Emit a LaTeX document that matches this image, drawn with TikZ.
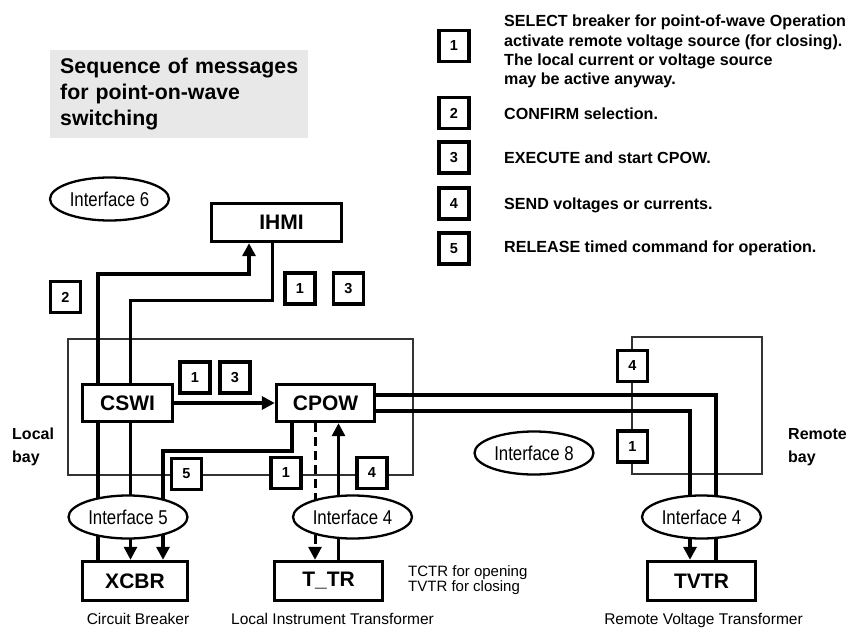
\documentclass[tikz,border=0pt]{standalone}
\usepackage{fontspec}
\setmainfont{Liberation Sans}
\newfontfamily\narrowfont[FakeStretch=0.84]{Liberation Sans}
\usetikzlibrary{arrows.meta,shapes.geometric}

\begin{document}
\begin{tikzpicture}[x=1pt,y=-1pt,
  blk/.style={draw, line width=3.4pt, fill=white, inner sep=0pt,
    font=\bfseries\fontsize{21}{24}\selectfont},
  num/.style={draw, line width=3.2pt, fill=white, minimum width=30pt,
    minimum height=31pt, inner sep=0pt, font=\bfseries\fontsize{14.5}{16}\selectfont},
  iface/.style={ellipse, draw, line width=2.3pt, fill=white, inner sep=0pt,
    minimum width=119pt, minimum height=43pt,
    font=\narrowfont\fontsize{20}{22}\selectfont},
  bay/.style={draw=black!80, line width=1.1pt},
  tip/.style={-{Triangle[length=13pt,width=13pt]}},
  heavy/.style={line width=4pt},
  medium/.style={line width=3pt},
  dashline/.style={line width=3pt, dash pattern=on 9pt off 5pt},
  lbl/.style={inner sep=0pt, font=\fontsize{15.5}{16}\selectfont},
  baylbl/.style={inner sep=0pt, anchor=west, align=left,
    font=\bfseries\fontsize{16}{23}\selectfont},
  legend/.style={inner sep=0pt, align=left,
    font=\bfseries\fontsize{16.1}{19.3}\selectfont},
]
\useasboundingbox (0,0) rectangle (848,628);

% title panel
\node[fill=black!9, anchor=north west, minimum width=258pt, minimum height=88pt,
  text width=238pt, inner xsep=10pt, inner ysep=0pt, align=left,
  font=\bfseries\fontsize{21.3}{26}\selectfont] (title) at (50,50)
  {Sequence of messages\\for point-on-wave\\switching};

% legend of message numbers
\node[num] (k1) at (454,46) {1};
\node[num] (k2) at (454,113) {2};
\node[num] (k3) at (454,157.5) {3};
\node[num] (k4) at (454,203.5) {4};
\node[num] (k5) at (454,248.5) {5};
\node[legend, anchor=west] (t1) at (504,51.5)
  {SELECT breaker for point-of-wave Operation\\activate remote voltage source (for closing).\\The local current or voltage source\\may be active anyway.};
\node[legend, anchor=base west] (t2) at (504,119.8) {CONFIRM selection.};
\node[legend, anchor=base west] (t3) at (504,163.8) {EXECUTE and start CPOW.};
\node[legend, anchor=base west] (t4) at (504,209.8) {SEND voltages or currents.};
\node[legend, anchor=base west] (t5) at (504,252.8) {RELEASE timed command for operation.};

% bays
\draw[bay] (68,339) rectangle (413,475);
\draw[bay] (632,337) rectangle (762,474);

% logical nodes
\node[blk, minimum width=130pt, minimum height=38pt] (ihmi) at (276.5,222.5) {\hspace*{10pt}IHMI};
\node[blk, minimum width=90pt, minimum height=37pt] (cswi) at (127.5,403) {CSWI};
\node[blk, minimum width=98pt, minimum height=37pt] (cpow) at (325.5,403) {CPOW};
\node[blk, minimum width=105pt, minimum height=39pt] (xcbr) at (135,581) {XCBR};
\node[blk, minimum width=108pt, minimum height=39pt] (ttr) at (328.5,581) {T\_TR};
\node[blk, minimum width=108pt, minimum height=39pt] (tvtr) at (701.5,581) {TVTR};

% routing columns and rows
\coordinate (cA) at (98,0);
\coordinate (cB) at (130.5,0);
\coordinate (cC) at (163,0);
\coordinate (cD) at (249,0);
\coordinate (cE) at (272,0);
\coordinate (cF) at (292,0);
\coordinate (cG) at (315,0);
\coordinate (cH) at (338.5,0);
\coordinate (cI) at (690,0);
\coordinate (cJ) at (715.5,0);
\coordinate (r1) at (0,273.5);
\coordinate (r2) at (0,300.5);
\coordinate (r3) at (0,451);
\coordinate (rU) at (0,394.5);
\coordinate (rL) at (0,410.5);

% messages
\draw[heavy,tip] (cswi.north -| cA) -- (cA |- r1) -| (ihmi.south -| cD);
\draw[medium] (ihmi.south -| cE) |- (cB |- r2) -- (cswi.north -| cB);
\draw[heavy] (cswi.south -| cA) -- (xcbr.north -| cA);
\draw[medium,tip] (cswi.south -| cB) -- (xcbr.north -| cB);
\draw[heavy,tip] (cswi.east) -- (cpow.west);
\draw[heavy,tip] (cpow.south -| cF) |- (cC |- r3) -- (xcbr.north -| cC);
\draw[dashline,tip] (cpow.south -| cG) -- (ttr.north -| cG);
\draw[medium,tip] (ttr.north -| cH) -- (cpow.south -| cH);
\draw[heavy] (cpow.east |- rU) -| (tvtr.north -| cJ);
\draw[heavy,tip] (cpow.east |- rL) -| (tvtr.north -| cI);

% interfaces
\node[iface] (if6) at (109.5,199) {Interface 6};
\node[iface] (if5) at (128,517) {Interface 5};
\node[iface] (if4a) at (352.5,517) {Interface 4};
\node[iface] (if8) at (534,453) {Interface 8};
\node[iface] (if4b) at (701.5,517) {Interface 4};

% message numbers on the connectors
\node[num] (n1a) at (300,288.5) {1};
\node[num] (n3a) at (348.5,288.5) {3};
\node[num] (n2) at (65.5,297) {2};
\node[num] (n1b) at (195,377.5) {1};
\node[num] (n3b) at (235,377.5) {3};
\node[num] (n5) at (186.5,474) {5};
\node[num] (n1c) at (286,473) {1};
\node[num] (n4a) at (372,473) {4};
\node[num] (n4b) at (632.5,366) {4};
\node[num] (n1d) at (632.5,446.5) {1};

% labels
\node[baylbl] (localbay) at (12,447) {Local\\bay};
\node[baylbl] (remotebay) at (788,447) {Remote\\bay};
\node[inner sep=0pt, anchor=west, align=left,
  font=\fontsize{15}{15}\selectfont] (note) at (408,580) {TCTR for opening\\TVTR for closing};
\node[lbl, anchor=base] (cbl) at (138,624) {Circuit Breaker};
\node[lbl, anchor=base] (litl) at (332.5,624) {Local Instrument Transformer};
\node[lbl, anchor=base] (rvtl) at (703.5,624) {Remote Voltage Transformer};
\end{tikzpicture}
\end{document}
